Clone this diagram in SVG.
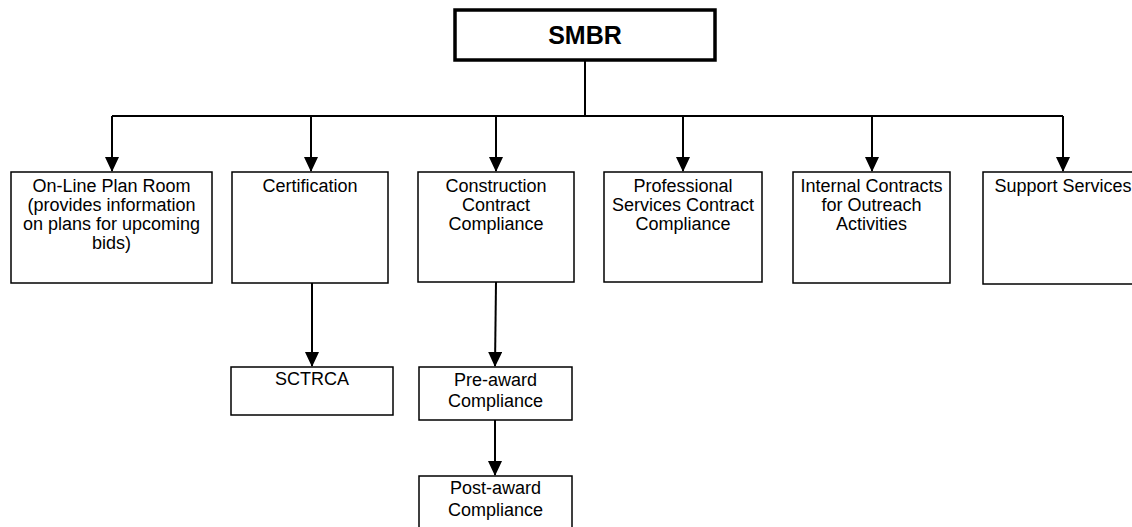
<svg xmlns="http://www.w3.org/2000/svg" width="1132" height="527" viewBox="0 0 1132 527">
<style>
.box{fill:#fff;stroke:#000;stroke-width:1.5}
.top{fill:#fff;stroke:#000;stroke-width:3.5}
.t{font-family:"Liberation Sans",Arial,sans-serif;font-size:18px;fill:#000;text-anchor:middle}
.b{font-family:"Liberation Sans",Arial,sans-serif;font-size:25px;font-weight:bold;fill:#000;text-anchor:middle}
.c{fill:none;stroke:#000;stroke-width:2}
</style>
<defs>
<marker id="ah" markerUnits="userSpaceOnUse" markerWidth="16" markerHeight="16" refX="14" refY="7" orient="auto">
<path d="M0,0 L15,7 L0,14 Z" fill="#000"/>
</marker>
</defs>
<g id="connectors">
<path class="c" d="M585,60 V116"/>
<path class="c" d="M112,116 H1063"/>
<path class="c" d="M112,116 V171" marker-end="url(#ah)"/>
<path class="c" d="M311,116 V171" marker-end="url(#ah)"/>
<path class="c" d="M496,116 V171" marker-end="url(#ah)"/>
<path class="c" d="M683,116 V171" marker-end="url(#ah)"/>
<path class="c" d="M872,116 V171" marker-end="url(#ah)"/>
<path class="c" d="M1063,116 V171" marker-end="url(#ah)"/>
<path class="c" d="M312,283 V366" marker-end="url(#ah)"/>
<path class="c" d="M496,282 L495,366" marker-end="url(#ah)"/>
<path class="c" d="M495,420 V475" marker-end="url(#ah)"/>
</g>
<g id="smbr">
<rect class="top" x="455" y="10" width="260" height="50"/>
<text class="b" x="585" y="44">SMBR</text>
</g>
<g id="online">
<rect class="box" x="11" y="172" width="201" height="111"/>
<text class="t"><tspan x="111.5" y="192">On-Line Plan Room</tspan><tspan x="111.5" y="211">(provides information</tspan><tspan x="111.5" y="230">on plans for upcoming</tspan><tspan x="111.5" y="249">bids)</tspan></text>
</g>
<g id="certification">
<rect class="box" x="232" y="172" width="156" height="111"/>
<text class="t" x="310" y="192">Certification</text>
</g>
<g id="construction">
<rect class="box" x="418" y="172" width="156" height="110"/>
<text class="t"><tspan x="496" y="192">Construction</tspan><tspan x="496" y="211">Contract</tspan><tspan x="496" y="230">Compliance</tspan></text>
</g>
<g id="professional">
<rect class="box" x="604" y="172" width="158" height="110"/>
<text class="t"><tspan x="683" y="192">Professional</tspan><tspan x="683" y="211">Services Contract</tspan><tspan x="683" y="230">Compliance</tspan></text>
</g>
<g id="internal">
<rect class="box" x="793" y="172" width="157" height="111"/>
<text class="t"><tspan x="871.5" y="192">Internal Contracts</tspan><tspan x="871.5" y="211">for Outreach</tspan><tspan x="871.5" y="230">Activities</tspan></text>
</g>
<g id="support">
<rect class="box" x="983" y="172" width="160" height="112"/>
<text class="t" x="1063" y="192">Support Services</text>
</g>
<g id="sctrca">
<rect class="box" x="231" y="367" width="162" height="48"/>
<text class="t" x="312" y="385">SCTRCA</text>
</g>
<g id="preaward">
<rect class="box" x="419" y="367" width="153" height="53"/>
<text class="t"><tspan x="495.5" y="386">Pre-award</tspan><tspan x="495.5" y="407">Compliance</tspan></text>
</g>
<g id="postaward">
<rect class="box" x="419" y="476" width="153" height="60"/>
<text class="t"><tspan x="495.5" y="494">Post-award</tspan><tspan x="495.5" y="516">Compliance</tspan></text>
</g>
</svg>
